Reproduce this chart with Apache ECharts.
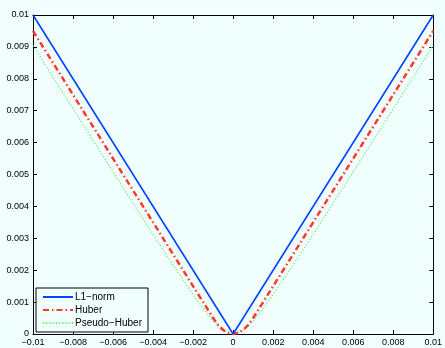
<!DOCTYPE html>
<html>
<head>
<meta charset="utf-8">
<script src="https://cdn.jsdelivr.net/npm/echarts@6/dist/echarts.min.js"></script>
<style>
  html, body { margin: 0; padding: 0; background: #f0fefe; }
  #chart { width: 445px; height: 348px; }
</style>
</head>
<body>
<div id="chart"></div>
<script>
// values
const l1X = [-0.01, 0, 0.01];
const l1Y = [0.01, 0, 0.01];

const huberX = [-0.01, -0.001, -0.00075, -0.0005, -0.00025, 0, 0.00025, 0.0005, 0.00075, 0.001, 0.01];
const huberY = [0.0095, 0.0005, 0.00028, 0.000125, 0.00003, 0, 0.00003, 0.000125, 0.00028, 0.0005, 0.0095];

const pseudoX = [-0.01, -0.008, -0.006, -0.004, -0.003, -0.002, -0.0015, -0.001, -0.0005, 0,
  0.0005, 0.001, 0.0015, 0.002, 0.003, 0.004, 0.006, 0.008, 0.01];
const pseudoY = [0.00905, 0.00706, 0.00508, 0.00312, 0.00216, 0.00124, 0.0008, 0.00041, 0.00012, 0,
  0.00012, 0.00041, 0.0008, 0.00124, 0.00216, 0.00312, 0.00508, 0.00706, 0.00905];

const seriesNames = ["L1\u2212norm", "Huber", "Pseudo\u2212Huber"];

const zip = (xs, ys) => xs.map((x, i) => [x, ys[i]]);
const fmt = (v) => {
  if (Math.abs(v) < 1e-12) return "0";
  const s = parseFloat(Math.abs(v).toFixed(4)).toString();
  return (v < 0 ? "\u2212" : "") + s;
};

const font = "Liberation Sans, Arial, sans-serif";
const tick = { show: true, inside: true, length: 4, lineStyle: { color: "#000" } };
const line = { show: true, onZero: false, lineStyle: { color: "#000", width: 1 } };

const chart = echarts.init(document.getElementById("chart"), null, { renderer: "canvas" });
chart.setOption({
  animation: false,
  backgroundColor: "#f0fefe",
  textStyle: { fontFamily: font },
  grid: { left: 33, right: 8, top: 15, bottom: 14 },
  legend: {
    left: 36,
    bottom: 16,
    orient: "vertical",
    itemWidth: 30,
    itemHeight: 8,
    itemGap: 3,
    padding: [4, 6, 4, 6],
    borderColor: "#000",
    borderWidth: 1,
    backgroundColor: "#f0fefe",
    itemStyle: { opacity: 0 },
    textStyle: { fontFamily: font, fontSize: 10, color: "#000", padding: [0, 0, 0, -3] },
    data: seriesNames,
  },
  xAxis: [
    {
      type: "value", min: -0.01, max: 0.01, interval: 0.002,
      axisLine: line, axisTick: tick, splitLine: { show: false },
      axisLabel: { formatter: fmt, color: "#000", fontSize: 9, margin: 4, fontFamily: font },
    },
    {
      type: "value", position: "top", min: -0.01, max: 0.01, interval: 0.002,
      axisLine: line, axisTick: tick, splitLine: { show: false }, axisLabel: { show: false },
    },
  ],
  yAxis: [
    {
      type: "value", min: 0, max: 0.01, interval: 0.001,
      axisLine: line, axisTick: tick, splitLine: { show: false },
      axisLabel: { formatter: fmt, color: "#000", fontSize: 9, margin: 4, fontFamily: font },
    },
    {
      type: "value", position: "right", min: 0, max: 0.01, interval: 0.001,
      axisLine: line, axisTick: tick, splitLine: { show: false }, axisLabel: { show: false },
    },
  ],
  series: [
    {
      name: seriesNames[2], type: "line", showSymbol: false, symbol: "none", z: 2,
      lineStyle: { color: "#5ef35e", width: 1.2, type: [1.2, 2] },
      itemStyle: { color: "#5ef35e" },
      data: zip(pseudoX, pseudoY),
    },
    {
      name: seriesNames[1], type: "line", showSymbol: false, symbol: "none", z: 3,
      lineStyle: { color: "#ff3a2a", width: 2.5, type: [6, 3, 1.5, 3] },
      itemStyle: { color: "#ff3a2a" },
      data: zip(huberX, huberY),
    },
    {
      name: seriesNames[0], type: "line", showSymbol: false, symbol: "none", z: 4,
      lineStyle: { color: "#0044ff", width: 1.6 },
      itemStyle: { color: "#0044ff" },
      data: zip(l1X, l1Y),
    },
  ],
});
</script>
</body>
</html>
